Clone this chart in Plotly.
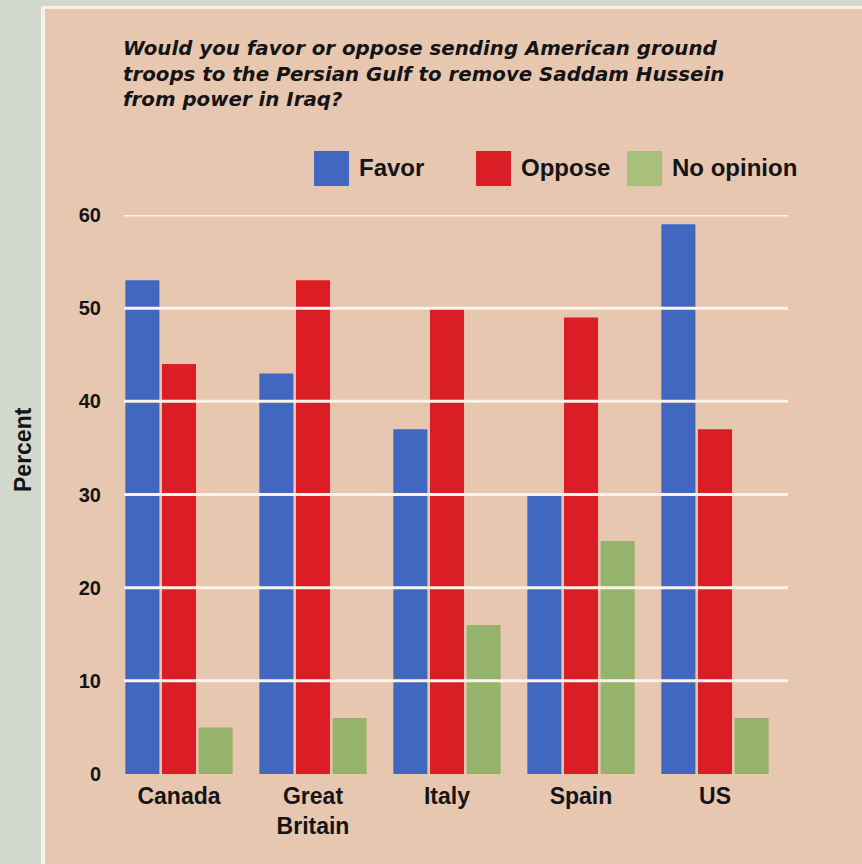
import plotly.graph_objects as go

# ---- data ----
categories = ["Canada", "Great<br>Britain", "Italy", "Spain", "US"]
favor = [53, 43, 37, 30, 59]
oppose = [44, 53, 50, 49, 37]
no_opinion = [5, 6, 16, 25, 6]
y_ticks = [0, 10, 20, 30, 40, 50, 60]
series_names = ["Favor", "Oppose", "No opinion"]
title_text = ("Would you favor or oppose sending American ground<br>"
              "troops to the Persian Gulf to remove Saddam Hussein<br>"
              "from power in Iraq?")
y_title = "Percent"

# ---- style ----
W, H = 862, 864
L, R, T, B = 112, 80, 215, 90
PW, PH = W - L - R, H - T - B
BEIGE = "#e8c7b0"
STRIP = "#d3d8cf"
GRID = "#fbf4ea"
colors = ["#4267c1", "#db1e26", "#96b36c"]
legend_swatch = ["#4267c1", "#db1e26", "#a9c07a"]
TXT = "#141414"
SANS = "Liberation Sans, Arial, sans-serif"


def px2x(px):
    return (px - L) / PW


def py2y(py):
    return (H - B - py) / PH


fig = go.Figure()
for name, vals, col in zip(series_names, [favor, oppose, no_opinion], colors):
    fig.add_trace(go.Bar(x=categories, y=vals, name=name, marker_color=col,
                         marker_line_width=0, showlegend=False))

shapes = []
# background strips
shapes.append(dict(type="rect", xref="paper", yref="paper", x0=px2x(0), x1=px2x(41),
                   y0=py2y(H), y1=py2y(0), fillcolor=STRIP, line_width=0, layer="below"))
shapes.append(dict(type="rect", xref="paper", yref="paper", x0=px2x(0), x1=px2x(W),
                   y0=py2y(6), y1=py2y(0), fillcolor=STRIP, line_width=0, layer="below"))
shapes.append(dict(type="rect", xref="paper", yref="paper", x0=px2x(41), x1=px2x(45),
                   y0=py2y(H), y1=py2y(6), fillcolor="#f5f1ea", line_width=0, layer="below"))
shapes.append(dict(type="rect", xref="paper", yref="paper", x0=px2x(41), x1=px2x(W),
                   y0=py2y(9), y1=py2y(6), fillcolor="#f5f1ea", line_width=0, layer="below"))
# gridlines drawn above bars
for v in y_ticks[1:]:
    shapes.append(dict(type="line", xref="paper", yref="y", x0=px2x(124), x1=px2x(788),
                       y0=v, y1=v, line=dict(color=GRID, width=3), layer="above"))

annotations = []
annotations.append(dict(text=title_text, xref="paper", yref="paper",
                        x=px2x(121), y=py2y(35), xanchor="left", yanchor="top",
                        align="left", showarrow=False,
                        font=dict(family="DejaVu Sans", size=19.8, color=TXT,
                                  weight="bold", style="italic")))
annotations.append(dict(text=y_title, xref="paper", yref="paper",
                        x=px2x(23), y=py2y(449), xanchor="center", yanchor="middle",
                        textangle=-90, showarrow=False,
                        font=dict(family=SANS, size=23, color=TXT, weight="bold")))

# legend (large swatches as in the original)
swatch_left = [314, 476, 627]
for name, col, sx in zip(series_names, legend_swatch, swatch_left):
    shapes.append(dict(type="rect", xref="paper", yref="paper",
                       x0=px2x(sx), x1=px2x(sx + 35), y0=py2y(186), y1=py2y(151),
                       fillcolor=col, line_width=0))
    annotations.append(dict(text=name, xref="paper", yref="paper",
                            x=px2x(sx + 43), y=py2y(167), xanchor="left", yanchor="middle",
                            showarrow=False,
                            font=dict(family=SANS, size=24, color=TXT, weight="bold")))

fig.update_layout(
    width=W, height=H,
    margin=dict(l=L, r=R, t=T, b=B, pad=0),
    paper_bgcolor=BEIGE, plot_bgcolor=BEIGE,
    barmode="group", bargap=0.18, bargroupgap=0.07,
    shapes=shapes, annotations=annotations,
    showlegend=False,
    xaxis=dict(type="category", range=[-0.5, 4.5], showgrid=False, zeroline=False,
               showline=False, ticks="", ticklabelstandoff=6,
               tickfont=dict(family=SANS, size=23, color=TXT, weight="bold")),
    yaxis=dict(range=[0, 60], tickvals=y_ticks, showgrid=False, zeroline=False,
               showline=False, ticks="", ticklabelstandoff=10,
               tickfont=dict(family=SANS, size=20, color=TXT, weight="bold")),
)

fig.write_html("out.html")
